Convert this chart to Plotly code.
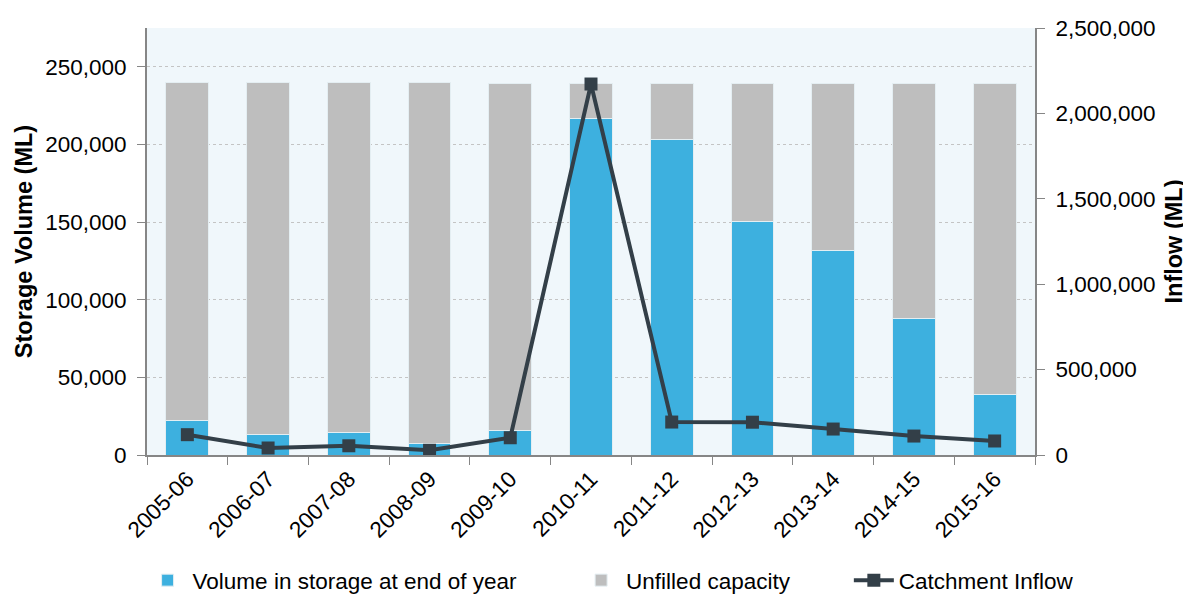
import plotly.graph_objects as go

# Storage volume and inflow by year
years = ['2005-06', '2006-07', '2007-08', '2008-09', '2009-10', '2010-11',
         '2011-12', '2012-13', '2013-14', '2014-15', '2015-16']
capacity = [240000, 240000, 240000, 240000, 239000, 239000,
            239000, 239000, 239000, 239000, 239000]
volume = [22400, 13100, 14200, 7700, 16100, 216700,
          203000, 150100, 131400, 87600, 38700]
inflow = [119000, 41000, 54000, 27500, 101000, 2172000,
          193000, 192000, 152000, 111000, 82000]
unfilled = [c - v for c, v in zip(capacity, volume)]

font = "Liberation Sans, Arial, sans-serif"

fig = go.Figure()
fig.add_trace(go.Bar(x=years, y=volume, name='Volume in storage at end of year',
                     marker=dict(color='#3DB0DF', line=dict(color='#E4EEF2', width=1)),
                     width=0.53, legend='legend'))
fig.add_trace(go.Bar(x=years, y=unfilled, name='Unfilled capacity',
                     marker=dict(color='#BEBEBE', line=dict(color='#E4EEF2', width=1)),
                     width=0.53, legend='legend2'))
fig.add_trace(go.Scatter(x=years, y=inflow, name='Catchment Inflow', yaxis='y2',
                         mode='lines+markers',
                         line=dict(color='#333F48', width=4),
                         marker=dict(symbol='square', size=13, color='#333F48'),
                         legend='legend3'))

leg = dict(orientation='h', xref='container', yref='container', y=0.0, yanchor='bottom',
           xanchor='left', font=dict(size=22.5), bgcolor='rgba(0,0,0,0)', itemwidth=40)

fig.update_layout(
    barmode='stack',
    width=1191, height=594,
    margin=dict(l=139, r=164, t=20, b=147, autoexpand=False),
    paper_bgcolor='white',
    plot_bgcolor='#F0F7FB',
    font=dict(family=font, size=22.5, color='#000000'),
    showlegend=True,
    legend=dict(leg, x=0.113),
    legend2=dict(leg, x=0.477),
    legend3=dict(leg, x=0.706),
    xaxis=dict(type='category', range=[-0.5, 10.5], domain=[0, 1],
               showline=True, linecolor='#868686', linewidth=2,
               ticks='outside', tickson='boundaries', ticklen=8, tickcolor='#868686',
               tickangle=-45, tickfont=dict(size=22.5), showgrid=False, automargin=False),
    yaxis=dict(range=[0, 275000], tickvals=[0, 50000, 100000, 150000, 200000, 250000],
               tickformat=',', showline=True, linecolor='#868686', linewidth=2,
               ticks='outside', ticklen=8, tickcolor='#868686', ticklabelstandoff=6,
               showgrid=True, gridcolor='#C4C4C4', griddash='dot', gridwidth=1,
               zeroline=False, automargin=False,
               title=dict(text='<b>Storage Volume (ML)</b>', font=dict(size=23.5), standoff=6)),
    yaxis2=dict(range=[0, 2500000], tickvals=[0, 500000, 1000000, 1500000, 2000000, 2500000],
                tickformat=',', overlaying='y', side='right', showline=True,
                linecolor='#868686', linewidth=2, ticks='outside', ticklen=8,
                ticklabelstandoff=6,
                tickcolor='#868686', showgrid=False, zeroline=False, automargin=False,
                title=dict(text='<b>Inflow (ML)</b>', font=dict(size=23.5), standoff=11)),
)

fig.write_html("out.html")
